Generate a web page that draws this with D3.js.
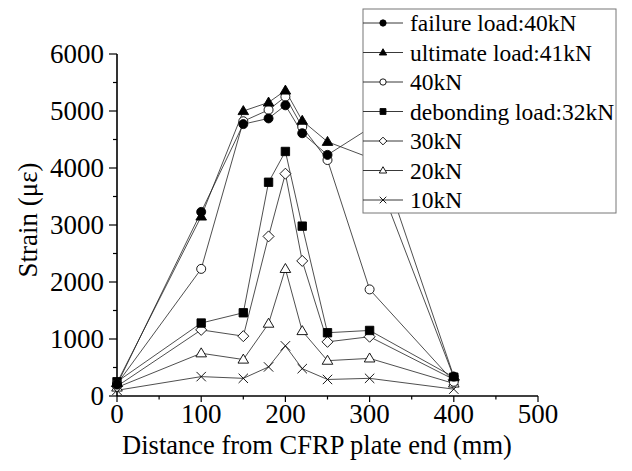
<!DOCTYPE html>
<html><head><meta charset="utf-8">
<script src="https://cdn.jsdelivr.net/npm/d3@7/dist/d3.min.js"></script>
<style>body{margin:0;background:#fff}svg{display:block}text{font-family:"Liberation Serif","Times New Roman",serif;fill:#000}</style>
</head><body><svg id="c" width="632" height="471"></svg>
<script>
const xValues = [0, 100, 150, 180, 200, 220, 250, 300, 400];
const failureLoad = [200, 3230, 4770, 4870, 5100, 4610, 4230, 4700, 340];
const ultimateLoad = [230, 3150, 5000, 5150, 5360, 4830, 4460, 4180, 330];
const load40 = [210, 2230, 4820, 5020, 5250, 4720, 4140, 1870, 250];
const debondingLoad = [250, 1280, 1460, 3750, 4290, 2980, 1110, 1150, 330];
const load30 = [170, 1160, 1050, 2800, 3900, 2370, 950, 1040, 290];
const load20 = [150, 750, 640, 1270, 2230, 1140, 620, 660, 220];
const load10 = [100, 340, 310, 510, 880, 480, 290, 310, 120];
const seriesNames = ["failure load:40kN","ultimate load:41kN","40kN","debonding load:32kN","30kN","20kN","10kN"];
const seriesMarkers = ["circleF","triF","circleO","squareF","diamondO","triO","cross"];
const xTicks = [0,100,200,300,400,500];
const yTicks = [0,1000,2000,3000,4000,5000,6000];

const series = [failureLoad, ultimateLoad, load40, debondingLoad, load30, load20, load10]
  .map((v,i)=>({name:seriesNames[i], marker:seriesMarkers[i], values:v}));

const svg = d3.select("#c");
const x = d3.scaleLinear().domain([0,500]).range([117,538]);
const y = d3.scaleLinear().domain([0,6000]).range([396,54]);

function markerPath(type, s){
  const p = d3.path();
  if(type.startsWith("circle")){ const r=4.5*s; p.moveTo(r,0); p.arc(0,0,r,0,2*Math.PI); }
  else if(type.startsWith("tri")){ const w=5.3*s, h=9*s; p.moveTo(0,-h*0.6); p.lineTo(w,h*0.4); p.lineTo(-w,h*0.4); p.closePath(); }
  else if(type.startsWith("square")){ const a=4.2*s; p.rect(-a,-a,2*a,2*a); }
  else if(type.startsWith("diamond")){ const a=5.5*s; p.moveTo(0,-a); p.lineTo(a,0); p.lineTo(0,a); p.lineTo(-a,0); p.closePath(); }
  else if(type==="cross"){ const a=4.7*s; p.moveTo(-a,-a); p.lineTo(a,a); p.moveTo(a,-a); p.lineTo(-a,a); }
  return p.toString();
}
function styleMarker(sel, type){
  const filled = type.endsWith("F");
  sel.attr("fill", type==="cross" ? "none" : (filled ? "#000" : "#fff"))
     .attr("stroke", "#000").attr("stroke-width", 0.9);
}

// Axes
const gx = svg.append("g").attr("transform","translate(0,396)");
gx.append("line").attr("x1",x(0)).attr("x2",x(500)).attr("stroke","#000").attr("stroke-width",1.6);
gx.selectAll(".mj").data(xTicks).join("line").attr("x1",d=>x(d)).attr("x2",d=>x(d)).attr("y1",0).attr("y2",6).attr("stroke","#000").attr("stroke-width",1.2);
gx.selectAll(".mn").data(d3.range(50,500,100)).join("line").attr("x1",d=>x(d)).attr("x2",d=>x(d)).attr("y1",0).attr("y2",3.5).attr("stroke","#000").attr("stroke-width",1.2);
gx.selectAll("text").data(xTicks).join("text").attr("x",d=>x(d)).attr("y",27).attr("text-anchor","middle").attr("font-size",27).text(d=>d);

const gy = svg.append("g");
gy.append("line").attr("x1",x(0)).attr("x2",x(0)).attr("y1",y(0)).attr("y2",y(6000)).attr("stroke","#000").attr("stroke-width",1.6);
gy.selectAll(".mj").data(yTicks).join("line").attr("x1",x(0)-8).attr("x2",x(0)).attr("y1",d=>y(d)).attr("y2",d=>y(d)).attr("stroke","#000").attr("stroke-width",1.2);
gy.selectAll(".mn").data(d3.range(500,6000,1000)).join("line").attr("x1",x(0)-4).attr("x2",x(0)).attr("y1",d=>y(d)).attr("y2",d=>y(d)).attr("stroke","#000").attr("stroke-width",1.2);
gy.selectAll("text").data(yTicks).join("text").attr("x",x(0)-13).attr("y",d=>y(d)+9).attr("text-anchor","end").attr("font-size",27).text(d=>d);

svg.append("text").attr("x",317).attr("y",454).attr("text-anchor","middle").attr("font-size",26.5).text("Distance from CFRP plate end (mm)");
svg.append("text").attr("transform","translate(37,220) rotate(-90)").attr("text-anchor","middle").attr("font-size",27).text("Strain (με)");

// Lines and markers
const line = d3.line().x((d,i)=>x(xValues[i])).y(d=>y(d));
const gs = svg.append("g");
series.slice().reverse().forEach(s=>{
  gs.append("path").attr("d",line(s.values)).attr("fill","none").attr("stroke","#222").attr("stroke-width",0.8);
});
series.slice().reverse().forEach(s=>{
  gs.selectAll(null).data(s.values).join("path")
    .attr("transform",(d,i)=>`translate(${x(xValues[i])},${y(d)})`)
    .attr("d",markerPath(s.marker,1)).call(styleMarker, s.marker);
});

// Legend
const lg = svg.append("g");
lg.append("rect").attr("x",363).attr("y",9).attr("width",253).attr("height",204).attr("fill","#fff").attr("stroke","#777").attr("stroke-width",1);
const rowY = d3.scalePoint().domain(seriesNames).range([23,200]);
series.forEach(s=>{
  const yy = rowY(s.name);
  lg.append("line").attr("x1",363).attr("x2",403).attr("y1",yy).attr("y2",yy).attr("stroke","#222").attr("stroke-width",0.9);
  lg.append("path").attr("transform",`translate(383,${yy})`).attr("d",markerPath(s.marker,0.7)).call(styleMarker, s.marker);
  lg.append("text").attr("x",410).attr("y",yy+8).attr("font-size",23.5).text(s.name);
});
</script></body></html>
